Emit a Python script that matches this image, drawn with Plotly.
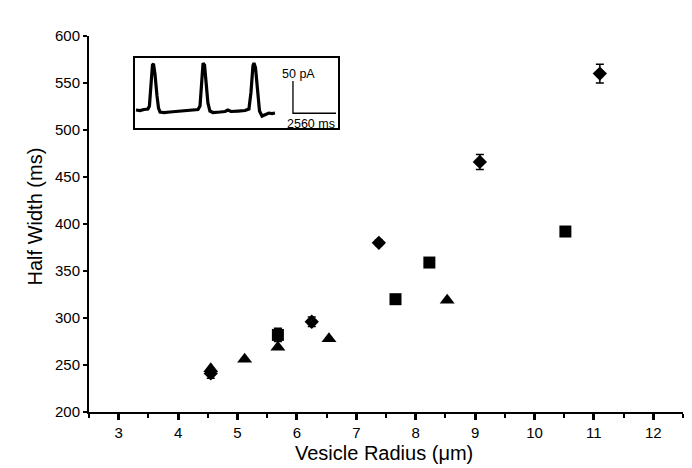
import plotly.graph_objects as go

# ---- main data (vesicle radius in µm, half width in ms) ----
diamond_radius = [4.55, 6.25, 7.38, 9.08, 11.10]
diamond_halfwidth = [241, 296, 380, 466, 560]
diamond_err = [5, 5, 3, 8, 10]

square_radius = [5.68, 7.66, 8.23, 10.52]
square_halfwidth = [282, 320, 359, 392]
square_err = [7, 3, 3, 3]

triangle_radius = [4.55, 5.12, 5.68, 6.54, 8.53]
triangle_halfwidth = [246, 256, 269, 278, 319]

x_ticks = [3, 4, 5, 6, 7, 8, 9, 10, 11, 12]
y_ticks = [200, 250, 300, 350, 400, 450, 500, 550, 600]

# ---- inset amperometric trace (time in ms, current in pA) ----
inset_time_ms = [60, 300, 540, 770, 860, 950, 1040, 1100, 1190, 1310, 1400, 1490,
                 1730, 2080, 2560, 3040, 3510, 3750, 3870, 3960, 4050, 4140, 4230,
                 4340, 4460, 4640, 5060, 5360, 5530, 5710, 6130, 6550, 6780, 6900,
                 7020, 7080, 7170, 7290, 7410, 7560, 7740, 7970, 8150, 8330]
inset_current_pA = [0.0, -0.8, 0.8, 1.6, 6.3, 42, 70, 72, 56, 22, 3.1, -3.1,
                    -3.9, -3.1, -2.3, -1.6, 0.0, 0.8, 6.3, 42, 73, 70, 42,
                    11, -1.6, -3.9, -3.1, -2.3, 0.0, -2.3, -1.6, -0.8, 1.6, 27,
                    69, 73, 66, 27, -1.6, -9.4, -7.8, -4.7, -5.5, -4.7]
scalebar_time_ms = [9400, 9400, 11960]
scalebar_current_pA = [45, -5, -5]

font_family = "Liberation Sans, Arial, sans-serif"

fig = go.Figure()

fig.add_trace(go.Scatter(
    x=diamond_radius, y=diamond_halfwidth, mode="markers",
    marker=dict(symbol="diamond", size=11, color="black"),
    error_y=dict(type="data", array=diamond_err, color="black", thickness=1.5, width=4),
    showlegend=False))
fig.add_trace(go.Scatter(
    x=square_radius, y=square_halfwidth, mode="markers",
    marker=dict(symbol="square", size=12, color="black"),
    error_y=dict(type="data", array=square_err, color="black", thickness=1.5, width=4),
    showlegend=False))
fig.add_trace(go.Scatter(
    x=triangle_radius, y=triangle_halfwidth, mode="markers",
    marker=dict(symbol="triangle-up", size=13, color="black"),
    showlegend=False))

# inset
fig.add_trace(go.Scatter(
    x=inset_time_ms, y=inset_current_pA, mode="lines",
    line=dict(color="black", width=3.2), xaxis="x2", yaxis="y2", showlegend=False))
fig.add_trace(go.Scatter(
    x=scalebar_time_ms, y=scalebar_current_pA, mode="lines",
    line=dict(color="black", width=1.3), xaxis="x2", yaxis="y2", showlegend=False))

fig.update_layout(
    width=692, height=468, autosize=False,
    margin=dict(l=81, r=17, t=28, b=64),
    paper_bgcolor="white", plot_bgcolor="white",
    font=dict(family=font_family, color="black"),
    xaxis=dict(
        range=[2.5, 12.5], tickvals=x_ticks, ticktext=[str(v) for v in x_ticks],
        showgrid=False, zeroline=False, showline=True, linecolor="black", linewidth=2,
        ticks="outside", ticklen=6, tickwidth=2.5, tickcolor="black",
        tickfont=dict(size=15, family=font_family),
        minor=dict(dtick=0.5, tick0=2.5, ticks="outside", ticklen=4, tickwidth=2,
                   tickcolor="black", showgrid=False),
    ),
    yaxis=dict(
        range=[200, 600], tickvals=y_ticks, ticktext=[str(v) for v in y_ticks],
        showgrid=False, zeroline=False, showline=True, linecolor="black", linewidth=2,
        ticks="outside", ticklen=4, tickwidth=1.5, tickcolor="black",
        tickfont=dict(size=15, family=font_family),
    ),
    xaxis2=dict(
        domain=[0.0774, 0.4192], anchor="y2", range=[0, 12080],
        showgrid=False, zeroline=False, showticklabels=False, ticks="",
        showline=True, mirror=True, linecolor="black", linewidth=1.5,
    ),
    yaxis2=dict(
        domain=[0.7553, 0.9415], anchor="x2", range=[-28, 81],
        showgrid=False, zeroline=False, showticklabels=False, ticks="",
        showline=True, mirror=True, linecolor="black", linewidth=1.5,
    ),
    annotations=[
        dict(text="Vesicle Radius (\u03bcm)", xref="paper", yref="paper",
             x=0.497, y=-0.108, xanchor="center", yanchor="middle",
             showarrow=False, font=dict(size=20, family=font_family)),
        dict(text="Half Width (ms)", xref="paper", yref="paper",
             x=-0.0909, y=0.52, xanchor="center", yanchor="middle", textangle=-90,
             showarrow=False, font=dict(size=20, family=font_family)),
        dict(text="50 pA", xref="x2", yref="y2", x=8630, y=56,
             xanchor="left", yanchor="middle", showarrow=False,
             font=dict(size=12.5, family=font_family)),
        dict(text="2560 ms", xref="x2", yref="y2", x=12000, y=-21,
             xanchor="right", yanchor="middle", showarrow=False,
             font=dict(size=12.5, family=font_family)),
    ],
)

fig.write_html("out.html")
